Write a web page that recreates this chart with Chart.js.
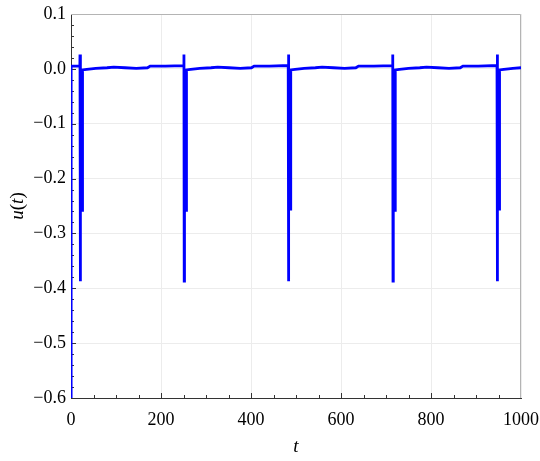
<!DOCTYPE html>
<html>
<head>
<meta charset="utf-8">
<script src="https://cdn.jsdelivr.net/npm/chart.js@4"></script>
<style>
    html, body { margin: 0; padding: 0; background: #fff; }
</style>
</head>
<body>
<canvas id="uChart" width="540" height="461"></canvas>
<script>
// time samples (five spike cycles)
const tValues = [
    0, 0.3, 19.7,
    20, 20.6, 21.2, 24.4, 25, 25.6, 35, 55, 80, 95, 120, 145, 170, 176, 210, 250.7,
    251, 251.6, 252.2, 255.4, 256, 256.6, 266, 286, 311, 326, 351, 376, 401, 407, 441, 482.7,
    483, 483.6, 484.2, 487.4, 488, 488.6, 498, 518, 543, 558, 583, 608, 633, 639, 673, 714.7,
    715, 715.6, 716.2, 719.4, 720, 720.6, 730, 750, 775, 790, 815, 840, 865, 871, 905, 946.7,
    947, 947.6, 948.2, 951.4, 952, 952.6, 962, 982, 1000
];
const uValues = [
    -0.9, 0.005, 0.005,
    0.026, -0.387, -0.002, -0.003, -0.258, -0.002, -0.001, 0.001, 0.002, 0.003, 0.002, 0.001, 0.002, 0.005, 0.005, 0.006,
    0.026, -0.387, -0.002, -0.003, -0.258, -0.002, -0.001, 0.001, 0.002, 0.003, 0.002, 0.001, 0.002, 0.005, 0.005, 0.006,
    0.026, -0.387, -0.002, -0.003, -0.258, -0.002, -0.001, 0.001, 0.002, 0.003, 0.002, 0.001, 0.002, 0.005, 0.005, 0.006,
    0.026, -0.387, -0.002, -0.003, -0.258, -0.002, -0.001, 0.001, 0.002, 0.003, 0.002, 0.001, 0.002, 0.005, 0.005, 0.006,
    0.026, -0.387, -0.002, -0.003, -0.258, -0.002, -0.001, 0.001, 0.002
];
const xRange = [0, 1000];
const yRange = [-0.6, 0.1];
const xMajorStep = 200;
const xMinorStep = 50;
const yMajorStep = 0.1;
const yMinorStep = 0.02;

const serif = "'Liberation Serif', 'DejaVu Serif', serif";

// ticks inside the frame, light top/right border, axis titles
const frame = {
    id: 'frame',
    beforeDatasetsDraw(chart) {
        const { ctx, chartArea: a, scales: { x, y } } = chart;
        ctx.save();
        ctx.lineWidth = 1;
        ctx.strokeStyle = '#b4b4b4';
        ctx.beginPath();
        ctx.moveTo(a.left, a.top + 0.5);
        ctx.lineTo(a.right - 0.5, a.top + 0.5);
        ctx.lineTo(a.right - 0.5, a.bottom);
        ctx.stroke();

        ctx.strokeStyle = '#333';
        ctx.beginPath();
        const nx = Math.round((xRange[1] - xRange[0]) / xMinorStep);
        for (let i = 1; i < nx; i++) {
            const v = xRange[0] + i * xMinorStep;
            const px = Math.round(x.getPixelForValue(v)) + 0.5;
            const len = (i * xMinorStep) % xMajorStep === 0 ? 5 : 3;
            ctx.moveTo(px, a.bottom);
            ctx.lineTo(px, a.bottom - len);
        }
        const ny = Math.round((yRange[1] - yRange[0]) / yMinorStep);
        for (let i = 1; i < ny; i++) {
            const v = yRange[0] + i * yMinorStep;
            const py = Math.round(y.getPixelForValue(v)) + 0.5;
            const len = i % Math.round(yMajorStep / yMinorStep) === 0 ? 5 : 3;
            ctx.moveTo(a.left, py);
            ctx.lineTo(a.left + len, py);
        }
        ctx.stroke();
        ctx.restore();
    },
    afterDraw(chart) {
        const { ctx, chartArea: a } = chart;
        ctx.save();
        ctx.fillStyle = '#000';
        ctx.textBaseline = 'middle';
        // x title
        ctx.font = 'italic 19px ' + serif;
        ctx.textAlign = 'center';
        ctx.fillText('t', (a.left + a.right) / 2, 447);

        // y title u(t), rotated
        const parts = [['u', 'italic'], ['(', 'normal'], ['t', 'italic'], [')', 'normal']];
        let total = 0;
        const widths = parts.map(([s, st]) => {
            ctx.font = st + ' 19px ' + serif;
            const w = ctx.measureText(s).width;
            total += w;
            return w;
        });
        ctx.translate(18, (a.top + a.bottom) / 2);
        ctx.rotate(-Math.PI / 2);
        ctx.textAlign = 'left';
        let cx = -total / 2;
        parts.forEach(([s, st], i) => {
            ctx.font = st + ' 19px ' + serif;
            ctx.fillText(s, cx, 0);
            cx += widths[i];
        });
        ctx.restore();
    }
};

function renderChart() {
    const points = tValues.map((t, i) => ({ x: t, y: uValues[i] }));
    const ctx = document.getElementById('uChart').getContext('2d');
    new Chart(ctx, {
        type: 'scatter',
        data: {
            datasets: [{
                label: 'u(t)',
                data: points,
                showLine: true,
                borderColor: '#0000ff',
                borderWidth: 2.8,
                pointRadius: 0,
                tension: 0
            }]
        },
        options: {
            responsive: false,
            animation: false,
            devicePixelRatio: 1,
            layout: { padding: { top: 14, right: 19, left: 0, bottom: 0 } },
            plugins: {
                legend: { display: false },
                tooltip: { enabled: false }
            },
            scales: {
                x: {
                    type: 'linear',
                    min: xRange[0],
                    max: xRange[1],
                    afterFit(s) {
                        s.height = 63;
                        s.paddingLeft = 0;
                        s.paddingRight = 0;
                    },
                    ticks: {
                        stepSize: xMajorStep,
                        maxRotation: 0,
                        padding: 11,
                        color: '#000',
                        font: { family: serif, size: 18 },
                        callback: v => String(v)
                    },
                    grid: { color: '#ececec', drawTicks: false },
                    border: { color: '#333', width: 1 }
                },
                y: {
                    type: 'linear',
                    min: yRange[0],
                    max: yRange[1],
                    afterFit(s) {
                        s.width = 71;
                        s.paddingTop = 0;
                        s.paddingBottom = 0;
                    },
                    ticks: {
                        stepSize: yMajorStep,
                        padding: 5,
                        color: '#000',
                        font: { family: serif, size: 18 },
                        callback: v => (v < -1e-9 ? '\u2212' : '') + Math.abs(v).toFixed(1)
                    },
                    grid: { color: '#ececec', drawTicks: false },
                    border: { color: '#333', width: 1 }
                }
            }
        },
        plugins: [frame]
    });
}

document.addEventListener('DOMContentLoaded', renderChart);
</script>
</body>
</html>
